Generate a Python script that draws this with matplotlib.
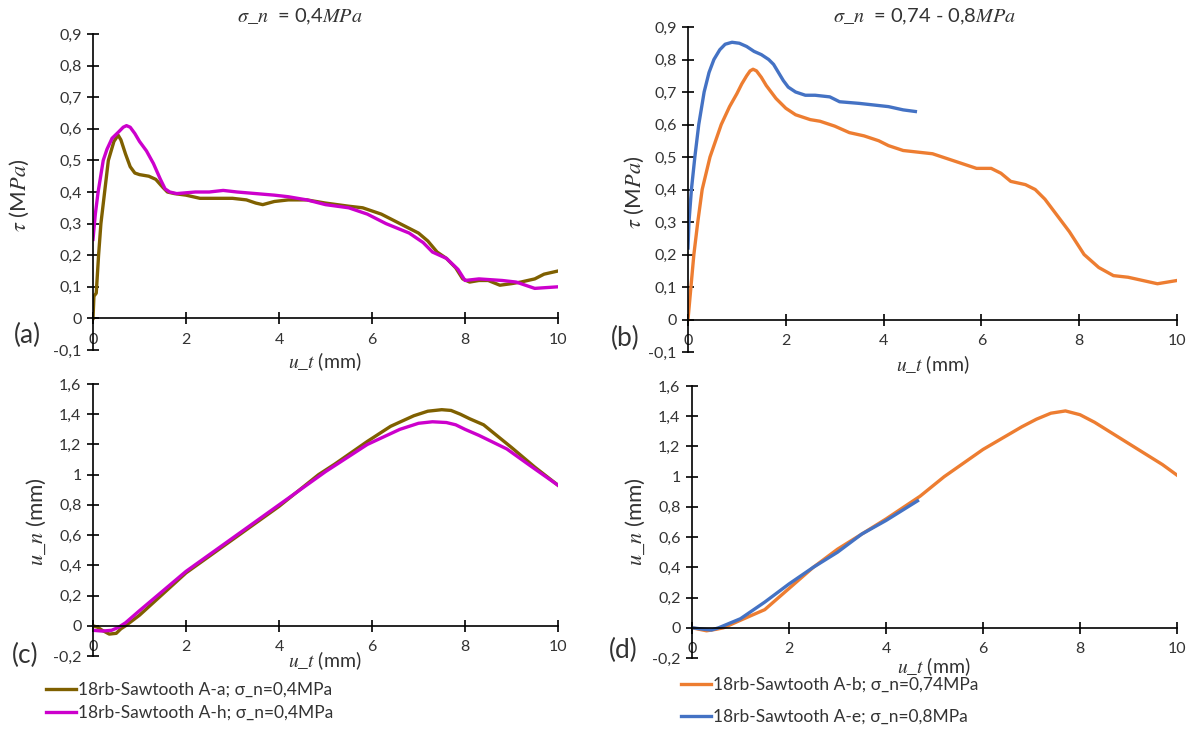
import numpy as np
import matplotlib
matplotlib.use('Agg')
import matplotlib.pyplot as plt

plt.rcParams['font.family'] = ['Lato', 'DejaVu Sans']
plt.rcParams['mathtext.fontset'] = 'stix'

# (a) tau vs u_t, sigma_n = 0,4 MPa
ut_aa = [0, 0.02, 0.07, 0.12, 0.17, 0.25, 0.33, 0.45, 0.54, 0.6, 0.7, 0.8, 0.9, 1.0, 1.2, 1.35,
         1.5, 1.6, 1.75, 2.0, 2.3, 2.7, 3.0, 3.3, 3.5, 3.65, 3.9, 4.2, 4.6, 5.0, 5.5, 5.8, 6.2, 6.6,
         7.0, 7.2, 7.4, 7.6, 7.8, 7.95, 8.1, 8.3, 8.5, 8.75, 9.0, 9.2, 9.5, 9.7, 10]
tau_aa = [0, 0.07, 0.08, 0.2, 0.3, 0.4, 0.5, 0.56, 0.58, 0.565, 0.52, 0.48, 0.46, 0.455, 0.45, 0.44,
          0.415, 0.40, 0.395, 0.39, 0.38, 0.38, 0.38, 0.375, 0.365, 0.36, 0.37, 0.375, 0.375, 0.365, 0.355, 0.35, 0.33, 0.30,
          0.27, 0.245, 0.21, 0.19, 0.16, 0.125, 0.115, 0.12, 0.12, 0.105, 0.11, 0.115, 0.125, 0.14, 0.15]
ut_ah = [0, 0.05, 0.11, 0.22, 0.3, 0.41, 0.55, 0.65, 0.72, 0.8, 0.9, 1.0, 1.15, 1.3, 1.45, 1.55, 1.65,
         1.8, 2.2, 2.5, 2.8, 3.1, 3.5, 3.9, 4.2, 4.6, 5.0, 5.5, 5.9, 6.3, 6.8, 7.1, 7.3, 7.6, 7.85, 8.0,
         8.3, 8.8, 9.1, 9.3, 9.5, 10]
tau_ah = [0.25, 0.33, 0.4, 0.5, 0.535, 0.57, 0.59, 0.605, 0.61, 0.605, 0.585, 0.56, 0.53, 0.49, 0.44, 0.41, 0.40,
          0.395, 0.40, 0.40, 0.405, 0.40, 0.395, 0.39, 0.385, 0.375, 0.36, 0.35, 0.33, 0.30, 0.27, 0.24, 0.21, 0.19, 0.155, 0.12,
          0.125, 0.12, 0.115, 0.105, 0.095, 0.1]

# (b) tau vs u_t, sigma_n = 0,74 - 0,8 MPa
ut_ab = [0, 0.06, 0.12, 0.2, 0.29, 0.45, 0.68, 0.85, 1.0, 1.1, 1.2, 1.27, 1.33, 1.4, 1.5, 1.6, 1.7,
         1.8, 2.0, 2.2, 2.5, 2.7, 3.0, 3.3, 3.6, 3.9, 4.1, 4.4, 4.7, 5.0, 5.3, 5.6, 5.9, 6.2, 6.4, 6.6,
         6.9, 7.1, 7.3, 7.5, 7.8, 8.1, 8.4, 8.7, 9.0, 9.3, 9.6, 9.8, 10]
tau_ab = [0, 0.1, 0.2, 0.3, 0.4, 0.5, 0.6, 0.655, 0.695, 0.725, 0.75, 0.765, 0.77, 0.765, 0.745, 0.72, 0.7,
          0.68, 0.65, 0.63, 0.615, 0.61, 0.595, 0.575, 0.565, 0.55, 0.535, 0.52, 0.515, 0.51, 0.495, 0.48, 0.465, 0.465, 0.45, 0.425,
          0.415, 0.40, 0.37, 0.33, 0.27, 0.2, 0.16, 0.135, 0.13, 0.12, 0.11, 0.115, 0.12]
ut_ae = [0, 0.02, 0.07, 0.14, 0.22, 0.33, 0.43, 0.53, 0.65, 0.76, 0.9, 1.05, 1.2, 1.35, 1.5, 1.65, 1.75,
         1.85, 1.95, 2.05, 2.2, 2.4, 2.6, 2.9, 3.1, 3.5, 3.8, 4.1, 4.4, 4.65]
tau_ae = [0.22, 0.3, 0.4, 0.5, 0.6, 0.7, 0.76, 0.8, 0.83, 0.847, 0.853, 0.85, 0.84, 0.825, 0.815, 0.80, 0.785,
          0.76, 0.735, 0.715, 0.70, 0.69, 0.69, 0.685, 0.67, 0.665, 0.66, 0.655, 0.645, 0.64]

# (c) u_n vs u_t, sigma_n = 0,4 MPa
ut_c_aa = [0, 0.1, 0.2, 0.35, 0.5, 0.6, 0.7, 1.0, 2.0, 4.0, 4.85, 5.2, 5.9, 6.4, 6.9, 7.2, 7.5,
           7.7, 7.9, 8.1, 8.4, 9.0, 9.5, 10]
un_c_aa = [0, -0.01, -0.03, -0.055, -0.05, -0.02, 0, 0.07, 0.35, 0.79, 1.0, 1.07, 1.22, 1.32, 1.39, 1.42, 1.43,
           1.425, 1.40, 1.37, 1.33, 1.18, 1.05, 0.93]
ut_c_ah = [0, 0.2, 0.4, 0.55, 0.7, 1.0, 2.0, 4.0, 5.0, 5.9, 6.6, 7.0, 7.3, 7.6, 7.8, 8.0, 8.3, 8.9,
           9.4, 10]
un_c_ah = [-0.03, -0.035, -0.03, -0.01, 0.02, 0.1, 0.36, 0.8, 1.02, 1.2, 1.3, 1.34, 1.35, 1.345, 1.33, 1.30, 1.26, 1.17,
           1.06, 0.93]

# (d) u_n vs u_t, sigma_n = 0,74 - 0,8 MPa
ut_d_ab = [0, 0.3, 0.5, 0.65, 1.0, 1.5, 2.0, 2.5, 3.0, 4.0, 4.7, 5.2, 6.0, 6.8, 7.1, 7.4, 7.7, 8.0,
           8.3, 8.6, 9.2, 9.7, 10]
un_d_ab = [0, -0.02, -0.01, 0.0, 0.05, 0.12, 0.26, 0.4, 0.52, 0.72, 0.87, 1.0, 1.18, 1.33, 1.38, 1.42, 1.435, 1.41,
           1.36, 1.3, 1.18, 1.08, 1.01]
ut_d_ae = [0, 0.25, 0.4, 0.55, 1.0, 1.5, 2.0, 2.5, 3.0, 3.5, 4.0, 4.65]
un_d_ae = [0, -0.01, -0.015, 0.0, 0.06, 0.17, 0.29, 0.40, 0.5, 0.62, 0.71, 0.84]

x_ticks = [0, 2, 4, 6, 8, 10]
x_labels = ['0', '2', '4', '6', '8', '10']
tau_ticks = [-0.1, 0, 0.1, 0.2, 0.3, 0.4, 0.5, 0.6, 0.7, 0.8, 0.9]
tau_labels = ['-0,1', '0', '0,1', '0,2', '0,3', '0,4', '0,5', '0,6', '0,7', '0,8', '0,9']
un_ticks = [-0.2, 0, 0.2, 0.4, 0.6, 0.8, 1.0, 1.2, 1.4, 1.6]
un_labels = ['-0,2', '0', '0,2', '0,4', '0,6', '0,8', '1', '1,2', '1,4', '1,6']

lab_aa = '18rb-Sawtooth A-a; σ_n=0,4MPa'
lab_ah = '18rb-Sawtooth A-h; σ_n=0,4MPa'
lab_ab = '18rb-Sawtooth A-b; σ_n=0,74MPa'
lab_ae = '18rb-Sawtooth A-e; σ_n=0,8MPa'

c_aa = '#7F6000'
c_ah = '#CC00CC'
c_ab = '#ED7D31'
c_ae = '#4472C4'
txt = '#333333'

W, H = 1194, 733
fig = plt.figure(figsize=(W / 100, H / 100), dpi=100)

def px_axes(left, right, top, bottom):
    return fig.add_axes([left / W, 1 - bottom / H, (right - left) / W, (bottom - top) / H])

def style(ax, ylim, yticks, ylabels):
    ax.set_xlim(0, 10)
    ax.set_ylim(*ylim)
    for s in ['top', 'right']:
        ax.spines[s].set_visible(False)
    ax.spines['bottom'].set_position(('data', 0))
    for s in ['bottom', 'left']:
        ax.spines[s].set_linewidth(1.2)
    ax.set_xticks(x_ticks, x_labels)
    ax.set_yticks(yticks, ylabels)
    ax.tick_params(direction='inout', length=8.5, width=1.2, labelsize=11.5, labelcolor=txt)
    ax.tick_params(axis='x', pad=6)
    ax.tick_params(axis='y', pad=4)
    ax.patch.set_alpha(0)

def ftext(x, y, s, **kw):
    fig.text(x / W, 1 - y / H, s, ha='center', va='center', color=txt, **kw)

lw = 2.4

ax_a = px_axes(93, 558, 34, 350)
ax_a.plot(ut_aa, tau_aa, color=c_aa, lw=lw)
ax_a.plot(ut_ah, tau_ah, color=c_ah, lw=lw)
style(ax_a, (-0.1, 0.9), tau_ticks, tau_labels)

ax_b = px_axes(688, 1177, 27, 352)
ax_b.plot(ut_ab, tau_ab, color=c_ab, lw=lw)
ax_b.plot(ut_ae, tau_ae, color=c_ae, lw=lw)
style(ax_b, (-0.1, 0.9), tau_ticks, tau_labels)

ax_c = px_axes(93, 558, 384, 656)
l1, = ax_c.plot(ut_c_aa, un_c_aa, color=c_aa, lw=lw)
l2, = ax_c.plot(ut_c_ah, un_c_ah, color=c_ah, lw=lw)
style(ax_c, (-0.2, 1.6), un_ticks, un_labels)

ax_d = px_axes(692, 1177, 386, 658)
l3, = ax_d.plot(ut_d_ab, un_d_ab, color=c_ab, lw=lw)
l4, = ax_d.plot(ut_d_ae, un_d_ae, color=c_ae, lw=lw)
style(ax_d, (-0.2, 1.6), un_ticks, un_labels)

# titles
ftext(300, 17, r'$\sigma\_n$  = 0,4$MPa$', fontsize=14.5)
ftext(925, 17, r'$\sigma\_n$  = 0,74 - 0,8$MPa$', fontsize=14.5)

# axis labels
ftext(325, 362, r'$u\_t$ (mm)', fontsize=14)
ftext(933, 365, r'$u\_t$ (mm)', fontsize=14)
ftext(325, 661, r'$u\_t$ (mm)', fontsize=14)
ftext(934, 667, r'$u\_t$ (mm)', fontsize=14)
ftext(19, 195, r'$\tau$ (M$Pa$)', fontsize=16, rotation=90)
ftext(634, 192, r'$\tau$ (M$Pa$)', fontsize=16, rotation=90)
ftext(36, 522, r'$u\_n$ (mm)', fontsize=16, rotation=90)
ftext(635, 522, r'$u\_n$ (mm)', fontsize=16, rotation=90)

# panel letters
ftext(27, 335, '(a)', fontsize=19)
ftext(625, 338, '(b)', fontsize=19)
ftext(25, 655, '(c)', fontsize=19)
ftext(623, 650, '(d)', fontsize=19)

# legends
leg_kw = dict(loc='upper left', frameon=False, fontsize=12.5, handlelength=1.7,
              handletextpad=0.12, borderpad=0, borderaxespad=0, labelcolor=txt)
fig.legend([l1, l2], [lab_aa, lab_ah], bbox_to_anchor=(46 / W, 1 - 682 / H),
           labelspacing=0.38, **leg_kw)
fig.legend([l3, l4], [lab_ab, lab_ae], bbox_to_anchor=(681 / W, 1 - 677 / H),
           labelspacing=0.9, **leg_kw)

fig.savefig('out.png', dpi=100)
